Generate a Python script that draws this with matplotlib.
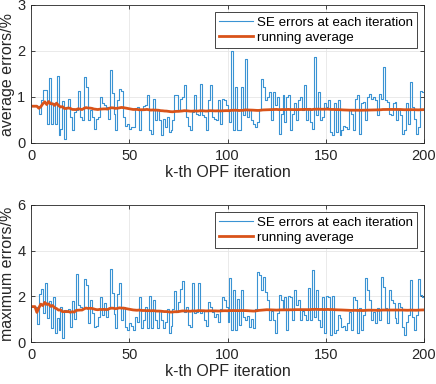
import numpy as np
import matplotlib
matplotlib.use("Agg")
import matplotlib.pyplot as plt

avg_err = [
    0.80, 0.80, 0.80, 0.62, 0.93, 1.16, 1.16, 0.42, 1.42, 0.42, 0.86, 0.42, 1.45, 0.17, 0.31, 0.91, 0.09, 0.78, 0.95, 0.57,
    0.29, 0.67, 0.72, 1.13, 0.57, 0.49, 1.43, 1.22, 0.49, 0.72, 0.57, 0.31, 0.53, 0.57, 0.99, 0.86, 0.82, 0.78, 0.53, 1.58,
    1.09, 0.64, 0.29, 0.93, 1.17, 1.13, 0.57, 0.36, 0.42, 0.31,
    0.35, 0.35, 0.75, 0.78, 0.28, 0.71, 0.80, 0.82, 1.04, 0.28, 0.20, 0.96, 0.49, 0.71, 0.49, 0.17, 0.53, 0.35, 0.57, 0.24,
    0.28, 0.49, 1.04, 1.04, 0.71, 0.96, 1.00, 1.25, 0.57, 0.38, 0.28, 0.67, 1.04, 0.64, 0.60, 1.29, 0.60, 0.57, 0.28, 0.93,
    1.25, 0.57, 0.53, 0.49, 0.93, 0.42, 0.96, 0.93, 0.82, 0.71, 0.46,
    2.00, 0.28, 1.22, 0.28, 0.28, 1.22, 0.60, 1.83, 0.57, 0.71, 0.49, 0.42, 0.35, 0.46, 0.71, 1.40, 1.22, 0.93, 1.00, 1.11,
    0.49, 1.11, 0.82, 1.00, 0.20, 0.64, 1.04, 0.46, 1.00, 1.04, 0.28, 0.64, 0.86, 0.49, 0.93, 1.01, 0.71, 1.25, 0.49, 0.75,
    0.46, 0.31, 1.87, 0.60, 1.11, 0.49, 0.57, 0.86, 0.78,
    0.93, 0.24, 0.17, 0.86, 0.24, 0.93, 0.17, 0.28, 0.38, 0.35, 0.31, 0.71, 0.64, 0.28, 0.96, 1.04, 0.20, 0.86, 0.89, 0.49,
    1.00, 1.07, 0.96, 1.00, 0.93, 0.60, 1.07, 0.96, 1.65, 0.93, 0.89, 0.64, 0.60, 0.86, 0.89, 0.49, 0.71, 0.60, 0.20, 0.28,
    0.86, 0.42, 1.33, 0.78, 0.53, 0.20, 0.35, 1.14, 1.11, 1.10,
]

max_err = [
    1.55, 1.55, 0.79, 2.10, 2.30, 1.28, 2.57, 1.04, 1.81, 0.60, 1.99, 0.38, 1.07, 0.53, 1.52, 0.16, 1.40, 1.33, 1.43, 0.67,
    1.80, 0.99, 2.98, 1.62, 1.52, 1.43, 2.74, 2.50, 0.82, 1.84, 1.28, 0.64, 0.70, 1.11, 1.96, 1.18, 1.72, 1.11, 1.47, 3.18,
    2.16, 1.23, 0.60, 2.10, 2.57, 0.96, 1.52, 0.64, 0.53, 0.82,
    0.70, 0.53, 1.11, 0.89, 1.99, 0.60, 0.96, 1.52, 0.60, 2.00, 0.60, 1.84, 0.96, 0.60, 1.40, 0.96, 0.60, 0.89, 1.43, 0.38,
    0.70, 1.43, 2.25, 1.33, 1.77, 2.30, 2.69, 1.33, 1.55, 0.74, 0.64, 2.57, 1.26, 1.33, 2.57, 1.26, 1.40, 0.96, 0.70, 1.77,
    1.52, 1.33, 1.11, 1.23, 0.89, 1.43, 1.99, 1.84, 1.52, 0.89,
    2.79, 0.53, 2.28, 0.53, 1.87, 0.74, 2.28, 1.11, 0.96, 1.14, 0.64, 1.01, 0.60, 1.43, 3.08, 2.93, 2.28, 2.86, 2.20, 1.84,
    0.96, 1.37, 0.96, 0.38, 1.26, 2.06, 1.84, 1.43, 1.99, 0.53, 2.02, 1.96, 0.96, 2.28, 1.62, 1.84, 0.96, 1.37, 1.18, 0.96,
    2.35, 0.96, 3.15, 1.11, 2.28, 0.96, 0.67, 1.96, 0.38, 2.02,
    1.99, 0.31, 2.02, 0.38, 0.53, 1.18, 1.04, 0.67, 0.70, 0.53, 0.82, 1.33, 0.53, 1.96, 1.84, 0.41, 1.47, 0.53, 1.18, 2.79,
    2.28, 1.84, 0.96, 1.33, 0.82, 1.47, 0.96, 2.83, 2.42, 1.47, 0.85, 2.28, 1.84, 1.69, 1.04, 0.82, 1.69, 1.55, 0.67, 0.31,
    0.89, 1.18, 2.72, 1.11, 0.53, 1.18, 2.74, 2.06, 1.99, 1.99,
]

x_ticks = [0, 50, 100, 150, 200]
top_yticks = [0, 1, 2, 3]
bot_yticks = [0, 2, 4, 6]
xlabel = "k-th OPF iteration"
ylabels = ["average errors/%", "maximum errors/%"]
legend_labels = ["SE errors at each iteration", "running average"]

plt.rcParams['font.family'] = ['Liberation Sans', 'DejaVu Sans']

W, H = 436, 384
fig = plt.figure(figsize=(W / 100, H / 100), dpi=100)

blue = "#3a93d3"
orange = "#D95319"
dark = "#262626"


def make_axes(rect, data, yticks, ylabel):
    ax = fig.add_axes(rect)
    y = np.array(data)
    x = np.arange(1, len(y) + 1)
    ravg = np.cumsum(y) / x
    l1, = ax.step(x, y, where='post', color=blue, lw=0.8)
    l2, = ax.plot(x, ravg, color=orange, lw=2.0)
    ax.set_xlim(0, 200)
    ax.set_ylim(yticks[0], yticks[-1])
    ax.set_xticks(x_ticks)
    ax.set_yticks(yticks)
    ax.grid(True, color="#e6e6e6", lw=0.6)
    ax.set_axisbelow(True)
    for s in ax.spines.values():
        s.set_color(dark)
        s.set_linewidth(0.6)
    ax.tick_params(direction='in', length=3, width=0.6, colors=dark,
                   labelsize=10.5, top=True, right=True, pad=4)
    ax.set_xlabel(xlabel, fontsize=11.5, color=dark, labelpad=2)
    ax.set_ylabel(ylabel, fontsize=11.5, color=dark)
    ax.yaxis.set_label_coords(-0.041, 0.5)
    leg = ax.legend([l1, l2], legend_labels, loc='upper right', fontsize=9.6,
                    fancybox=False, framealpha=1, edgecolor=dark,
                    borderaxespad=0.55, handlelength=2.5, handletextpad=0.3,
                    borderpad=0.3, labelspacing=0.2)
    leg.get_frame().set_linewidth(0.6)
    return ax


make_axes([31 / W, 1 - 143 / H, 393 / W, 138 / H], avg_err, top_yticks, ylabels[0])
make_axes([31 / W, 1 - 342 / H, 393 / W, 137 / H], max_err, bot_yticks, ylabels[1])

fig.savefig("out.png", dpi=100)
